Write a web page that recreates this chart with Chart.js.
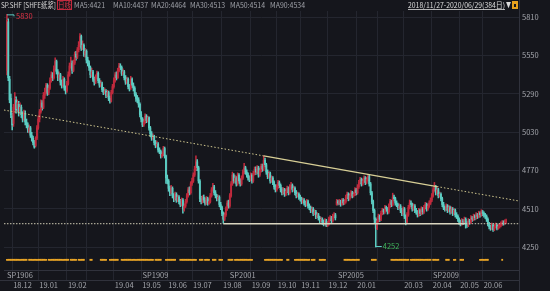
<!DOCTYPE html>
<html>
<head>
<meta charset="utf-8">
<script src="https://cdn.jsdelivr.net/npm/chart.js@4.4.1/dist/chart.umd.min.js"></script>
<style>
  html, body { margin: 0; padding: 0; background: #15161c; overflow: hidden; }
  canvas { display: block; }
</style>
</head>
<body>
<canvas id="klineChart" width="550" height="291"></canvas>
<script>
// daily OHLC, 2018/11/27 - 2020/06/29 (384 trading days)
const opens = [5450,5780,5390,5260,5140,5090,5190,5250,5190,5220,
5170,5200,5150,5120,5160,5100,5080,5040,5060,5010,
4990,4960,4940,4990,5060,5120,5170,5230,5200,5280,
5300,5350,5300,5330,5380,5420,5400,5460,5510,5440,
5400,5420,5370,5350,5390,5330,5310,5360,5420,5480,
5500,5450,5500,5560,5540,5590,5620,5680,5600,5620,
5560,5580,5520,5500,5470,5420,5440,5390,5370,5400,
5430,5380,5350,5360,5320,5300,5310,5280,5300,5260,
5240,5300,5340,5380,5420,5400,5450,5480,5470,5430,
5440,5400,5370,5390,5340,5330,5390,5350,5330,5290,
5260,5250,5220,5150,5120,5080,5100,5140,5110,5130,
5060,5020,4990,5000,4960,4940,4950,4910,4900,4870,
4880,4920,4870,4720,4700,4650,4620,4650,4600,4580,
4610,4570,4590,4560,4540,4570,4510,4530,4560,4600,
4640,4620,4680,4700,4740,4780,4830,4790,4700,4580,
4560,4590,4570,4550,4580,4550,4560,4600,4640,4660,
4620,4600,4580,4590,4540,4520,4480,4440,4470,4510,
4550,4530,4600,4680,4740,4700,4720,4680,4740,4700,
4680,4720,4760,4790,4760,4740,4720,4710,4740,4700,
4750,4780,4760,4790,4740,4770,4800,4780,4840,4810,
4760,4730,4750,4700,4720,4690,4660,4640,4660,4690,
4670,4640,4620,4640,4610,4630,4650,4620,4660,4670,
4640,4650,4620,4600,4610,4590,4580,4560,4570,4550,
4540,4560,4530,4520,4500,4510,4480,4490,4460,4470,
4450,4430,4440,4420,4410,4430,4400,4410,4440,4450,
4430,4460,4470,4540,4560,4550,4560,4540,4570,4550,
4560,4590,4610,4580,4600,4620,4600,4610,4640,4620,
4660,4690,4710,4680,4700,4720,4690,4710,4730,4680,
4620,4560,4500,4440,4380,4430,4460,4440,4480,4500,
4490,4520,4510,4490,4530,4560,4540,4590,4580,4550,
4540,4520,4530,4500,4480,4510,4460,4420,4470,4520,
4550,4540,4510,4530,4500,4490,4470,4500,4480,4510,
4490,4520,4540,4510,4530,4550,4570,4600,4640,4660,
4620,4640,4600,4610,4580,4540,4520,4510,4530,4500,
4520,4490,4510,4480,4500,4470,4460,4440,4420,4410,
4430,4420,4440,4410,4400,4430,4420,4450,4440,4460,
4450,4470,4460,4480,4470,4490,4480,4470,4460,4440,
4410,4390,4380,4400,4370,4390,4400,4380,4390,4400,
4410,4420,4415,4425];

const highs = [5830,5800,5410,5290,5160,5220,5300,5270,5250,5240,
5230,5215,5170,5180,5175,5120,5095,5080,5070,5030,
5005,4975,5000,5075,5140,5185,5250,5245,5300,5330,
5362,5360,5350,5400,5440,5435,5480,5535,5520,5455,
5440,5430,5385,5410,5400,5345,5375,5440,5500,5540,
5515,5520,5575,5580,5605,5645,5700,5690,5650,5630,
5600,5590,5540,5515,5480,5465,5450,5405,5420,5445,
5440,5395,5380,5370,5335,5330,5320,5315,5310,5275,
5315,5355,5400,5435,5440,5465,5498,5495,5480,5460,
5450,5415,5405,5400,5355,5410,5400,5365,5340,5300,
5280,5265,5230,5170,5130,5120,5155,5150,5140,5135,
5070,5035,5020,5010,4975,4970,4960,4925,4910,4895,
4935,4930,4875,4740,4710,4665,4670,4660,4615,4625,
4620,4605,4600,4575,4585,4580,4545,4575,4615,4655,
4660,4695,4720,4755,4800,4870,4845,4800,4710,4595,
4600,4605,4585,4595,4590,4580,4615,4655,4684,4670,
4635,4610,4605,4600,4555,4530,4490,4485,4525,4565,
4570,4615,4695,4760,4750,4740,4730,4755,4750,4715,
4735,4775,4820,4800,4775,4755,4735,4755,4750,4765,
4795,4795,4805,4800,4785,4815,4815,4870,4855,4820,
4775,4765,4760,4735,4730,4700,4675,4675,4705,4700,
4680,4655,4655,4650,4645,4665,4660,4675,4690,4680,
4665,4660,4635,4625,4620,4605,4590,4585,4580,4565,
4575,4570,4545,4530,4525,4520,4505,4500,4485,4480,
4460,4455,4450,4435,4445,4440,4425,4455,4465,4460,
4475,4485,4480,4575,4570,4575,4570,4580,4580,4575,
4605,4625,4620,4615,4635,4630,4625,4655,4650,4675,
4705,4725,4720,4715,4735,4730,4725,4745,4740,4690,
4630,4570,4510,4450,4445,4475,4470,4495,4515,4510,
4535,4530,4520,4545,4575,4570,4617,4605,4590,4565,
4550,4545,4540,4515,4525,4520,4470,4485,4535,4571,
4565,4550,4545,4540,4515,4500,4515,4510,4525,4520,
4535,4555,4550,4545,4565,4585,4615,4655,4690,4670,
4655,4650,4625,4620,4590,4555,4530,4545,4540,4535,
4530,4525,4520,4515,4510,4485,4470,4450,4435,4445,
4440,4455,4450,4425,4445,4440,4465,4460,4475,4470,
4485,4480,4495,4490,4505,4500,4490,4480,4470,4450,
4420,4400,4415,4410,4405,4415,4410,4405,4412,4422,
4432,4430,4436,4442];

const lows = [5420,5380,5230,5130,5046,5070,5180,5160,5170,5140,
5150,5130,5100,5110,5080,5060,5030,5025,4995,4970,
4945,4922,4930,4980,5050,5100,5160,5180,5190,5260,
5290,5280,5285,5320,5370,5380,5390,5450,5425,5380,
5385,5350,5330,5340,5315,5290,5300,5350,5410,5465,
5430,5440,5490,5520,5530,5575,5610,5585,5590,5545,
5540,5500,5480,5450,5400,5405,5375,5350,5360,5390,
5365,5335,5340,5305,5285,5290,5265,5270,5245,5227,
5235,5290,5330,5370,5385,5395,5440,5455,5415,5420,
5385,5355,5360,5325,5310,5320,5335,5310,5275,5240,
5230,5200,5135,5100,5068,5070,5090,5095,5100,5045,
5000,4975,4980,4945,4925,4930,4895,4885,4855,4860,
4870,4855,4684,4680,4630,4600,4610,4585,4560,4570,
4555,4560,4545,4525,4530,4481,4495,4520,4550,4590,
4605,4610,4670,4690,4730,4770,4770,4685,4560,4545,
4550,4555,4535,4540,4535,4540,4550,4590,4630,4605,
4585,4565,4570,4525,4505,4465,4413,4430,4460,4500,
4515,4520,4590,4670,4685,4690,4665,4670,4685,4665,
4670,4710,4750,4745,4725,4705,4695,4700,4685,4690,
4740,4745,4750,4725,4730,4760,4765,4770,4795,4745,
4715,4720,4685,4690,4675,4645,4625,4630,4650,4655,
4625,4605,4610,4595,4600,4620,4605,4610,4650,4625,
4630,4605,4585,4590,4575,4565,4545,4550,4535,4525,
4530,4515,4505,4485,4490,4465,4470,4445,4450,4435,
4415,4420,4405,4395,4400,4390,4390,4400,4430,4415,
4420,4450,4435,4535,4537,4540,4528,4535,4538,4540,
4550,4580,4565,4570,4590,4585,4590,4600,4605,4610,
4650,4680,4665,4670,4690,4675,4680,4700,4665,4605,
4545,4485,4413,4252,4370,4420,4425,4430,4470,4475,
4480,4495,4475,4480,4520,4525,4530,4565,4535,4525,
4505,4510,4485,4465,4470,4445,4402,4410,4460,4510,
4525,4495,4500,4485,4475,4455,4460,4465,4470,4475,
4480,4510,4495,4500,4520,4540,4560,4590,4630,4605,
4610,4585,4590,4565,4525,4505,4495,4500,4485,4490,
4475,4480,4465,4470,4455,4445,4425,4405,4395,4400,
4405,4410,4380,4385,4390,4405,4410,4425,4430,4435,
4440,4445,4450,4455,4460,4465,4455,4445,4425,4395,
4375,4365,4370,4357,4362,4380,4368,4372,4380,4388,
4398,4400,4405,4412];

const closes = [5790,5400,5250,5150,5080,5200,5260,5180,5230,5160,
5200,5150,5120,5160,5100,5080,5050,5060,5010,4990,
4960,4930,4990,5060,5120,5170,5230,5200,5280,5300,
5350,5300,5330,5380,5420,5400,5460,5510,5440,5400,
5420,5370,5350,5390,5330,5310,5360,5420,5480,5500,
5450,5500,5560,5540,5590,5620,5680,5600,5620,5560,
5580,5520,5500,5470,5420,5440,5390,5370,5400,5430,
5380,5350,5360,5320,5300,5310,5280,5300,5260,5240,
5300,5340,5380,5420,5400,5450,5480,5470,5430,5440,
5400,5370,5390,5340,5330,5390,5350,5330,5290,5260,
5250,5220,5150,5120,5080,5100,5140,5110,5130,5060,
5020,4990,5000,4960,4940,4950,4910,4900,4870,4880,
4920,4870,4720,4700,4650,4620,4650,4600,4580,4610,
4570,4590,4560,4540,4570,4510,4530,4560,4600,4640,
4620,4680,4700,4740,4780,4830,4790,4700,4580,4560,
4590,4570,4550,4580,4550,4560,4600,4640,4660,4620,
4600,4580,4590,4540,4520,4480,4440,4470,4510,4550,
4530,4600,4680,4740,4700,4720,4680,4740,4700,4680,
4720,4760,4790,4760,4740,4720,4710,4740,4700,4750,
4780,4760,4790,4740,4770,4800,4780,4840,4810,4760,
4730,4750,4700,4720,4690,4660,4640,4660,4690,4670,
4640,4620,4640,4610,4630,4650,4620,4660,4670,4640,
4650,4620,4600,4610,4590,4580,4560,4570,4550,4540,
4560,4530,4520,4500,4510,4480,4490,4460,4470,4450,
4430,4440,4420,4410,4430,4400,4410,4440,4450,4430,
4460,4470,4450,4560,4550,4560,4540,4570,4550,4560,
4590,4610,4580,4600,4620,4600,4610,4640,4620,4660,
4690,4710,4680,4700,4720,4690,4710,4730,4680,4620,
4560,4500,4440,4380,4430,4460,4440,4480,4500,4490,
4520,4510,4490,4530,4560,4540,4590,4580,4550,4540,
4520,4530,4500,4480,4510,4460,4420,4470,4520,4550,
4540,4510,4530,4500,4490,4470,4500,4480,4510,4490,
4520,4540,4510,4530,4550,4570,4600,4640,4660,4620,
4640,4600,4610,4580,4540,4520,4510,4530,4500,4520,
4490,4510,4480,4500,4470,4460,4440,4420,4410,4430,
4420,4440,4410,4400,4430,4420,4450,4440,4460,4450,
4470,4460,4480,4470,4490,4480,4470,4460,4440,4410,
4390,4380,4400,4370,4390,4400,4380,4390,4400,4410,
4420,4415,4425,4430];

// first trading day of each month (index into the series) and its label
const monthStarts = [4, 24, 46, 61, 82, 103, 123, 142, 165, 187, 207, 225, 246, 268, 284, 304, 326, 347, 365];
const monthLabels = ['18.12','19.01','19.02','','19.04','19.05','19.06','19.07','19.08','19.09','19.10','19.11','19.12','20.01','','20.03','20.04','20.05','20.06'];

// main contract switches
const contractStarts = [0, 104, 171, 254, 327];
const contractNames = ['SP1906', 'SP1909', 'SP2001', 'SP2005', 'SP2009'];

const priceTicks = [4250, 4510, 4770, 5030, 5290, 5550, 5810];

// orange signal marks under the candles, [first day, last day]
const signalRanges = [[0,8],[9,15],[17,23],[24,30],[32,37],[38,47],[49,53],[55,59],[64,65],[72,76],
  [79,85],[88,99],[100,112],[114,118],[122,125],[126,129],[133,140],[141,145],[148,150],[152,155],
  [158,160],[163,165],[170,173],[175,188],[198,207],[208,211],[215,216],[221,232],[234,236],[240,244],
  [259,270],[280,283],[295,308],[310,319],[320,325],[327,331],[337,339],[343,344],[348,350],[363,369],[380,380]];

// hand-drawn lines: falling resistance and flat support
const resistDays = [-2.3, 197, 330, 392.9];
const resistPrices = [5181, 4870, 4662, 4564];
const supportDays = [-2.3, 166, 352, 392.9];
const supportPrices = [4410, 4410, 4410, 4410];

const maLabels = ['MA5:4421', 'MA10:4437', 'MA20:4464', 'MA30:4513', 'MA50:4514', 'MA90:4534'];

const UP = '#c02a3d';
const DOWN = '#5ccdc3';
const FONT = '"Noto Sans CJK SC", "Noto Sans", sans-serif';
const SIGNAL_LEVEL = 4165;

const days = closes.map((c, i) => i);
const candleColors = days.map(i => closes[i] >= opens[i] ? UP : DOWN);

const signalPoints = [];
signalRanges.forEach(([a, b]) => {
  for (let i = a; i <= b; i++) signalPoints.push({ x: i, y: SIGNAL_LEVEL });
});

function seg(xs, ys, from, to) {
  const pts = [];
  for (let k = from; k <= to; k++) pts.push({ x: xs[k], y: ys[k] });
  return pts;
}

const overlay = {
  id: 'overlay',
  beforeDraw(chart) {
    const { ctx } = chart;
    ctx.save();
    ctx.fillStyle = '#15161c';
    ctx.fillRect(0, 0, chart.width, chart.height);
    ctx.restore();
  },
  afterDraw(chart) {
    const { ctx, scales: { x, y } } = chart;
    ctx.save();

    // frame lines
    ctx.strokeStyle = '#30323c';
    ctx.lineWidth = 1;
    ctx.beginPath();
    ctx.moveTo(519.5, 0); ctx.lineTo(519.5, 291);
    ctx.moveTo(0, 280.5); ctx.lineTo(519, 280.5);
    ctx.stroke();

    // header
    ctx.font = '7.5px ' + FONT;
    ctx.textBaseline = 'middle';
    ctx.textAlign = 'left';
    ctx.fillStyle = '#d6d6d6';
    ctx.fillText('SP.SHF [SHFE纸浆]', 1, 5, 55);
    ctx.strokeStyle = '#c42a3f';
    ctx.strokeRect(57.5, 0.5, 14, 9);
    ctx.fillStyle = '#e03446';
    ctx.fillText('日线', 58, 5, 13);
    ctx.fillStyle = '#9fa1a8';
    const maX = [74, 113, 151, 190, 230, 270];
    maLabels.forEach((t, k) => ctx.fillText(t, maX[k], 5, k === 0 ? 31 : 35));

    ctx.textAlign = 'right';
    ctx.fillStyle = '#dcdcdc';
    const range = '2018/11/27-2020/06/29(384日)';
    ctx.fillText(range, 505, 5, 97);
    const w = Math.min(97, ctx.measureText(range).width);
    ctx.fillRect(505 - w, 9, w, 0.8);
    ctx.textAlign = 'left';
    ctx.fillText('▼', 506, 5, 5);
    ctx.fillStyle = '#e8a21e';
    ctx.fillRect(512, 1, 6, 8);
    ctx.fillStyle = '#15161c';
    ctx.fillRect(514, 4, 2, 3);

    // highest / lowest marks
    const hi = Math.max(...highs), hiIdx = highs.indexOf(hi);
    const lo = Math.min(...lows), loIdx = lows.indexOf(lo);
    ctx.strokeStyle = DOWN;
    ctx.beginPath();
    let px = x.getPixelForValue(hiIdx), py = y.getPixelForValue(hi);
    ctx.moveTo(px, py + 0.5); ctx.lineTo(px + 7, py + 0.5); ctx.lineTo(px + 7, py + 2);
    ctx.stroke();
    ctx.fillStyle = '#e03446';
    ctx.fillText(String(hi), px + 9, py + 2);
    px = x.getPixelForValue(loIdx); py = y.getPixelForValue(lo);
    ctx.beginPath();
    ctx.moveTo(px, py - 0.5); ctx.lineTo(px + 6, py - 0.5);
    ctx.stroke();
    ctx.fillStyle = '#3fb45a';
    ctx.fillText(String(lo), px + 7, py - 1);

    // contract names
    ctx.fillStyle = '#a3a5ab';
    contractStarts.forEach((d, k) => {
      ctx.fillText(contractNames[k], x.getPixelForValue(d), 275.5);
    });
    ctx.restore();
  }
};

new Chart(document.getElementById('klineChart'), {
  type: 'bar',
  data: {
    datasets: [
      {
        label: 'wick',
        data: days.map(i => ({ x: i, y: [lows[i], highs[i]] })),
        backgroundColor: candleColors,
        barThickness: 0.9,
        grouped: false,
        order: 3
      },
      {
        label: 'body',
        data: days.map(i => ({ x: i, y: [opens[i], closes[i]] })),
        backgroundColor: candleColors,
        barThickness: 1.2,
        grouped: false,
        order: 2
      },
      {
        type: 'scatter',
        label: 'signal',
        data: signalPoints,
        pointStyle: 'rect',
        pointRadius: 1.3,
        pointBackgroundColor: '#eaa526',
        pointBorderWidth: 0,
        order: 1
      },
      {
        type: 'line', label: 'resistL', data: seg(resistDays, resistPrices, 0, 1),
        borderColor: '#cfc68e', borderWidth: 1, borderDash: [1.5, 2], pointRadius: 0, order: 0
      },
      {
        type: 'line', label: 'resist', data: seg(resistDays, resistPrices, 1, 2),
        borderColor: '#d8cf96', borderWidth: 1.2, pointRadius: 0, order: 0
      },
      {
        type: 'line', label: 'resistR', data: seg(resistDays, resistPrices, 2, 3),
        borderColor: '#cfc68e', borderWidth: 1, borderDash: [1.5, 2], pointRadius: 0, order: 0
      },
      {
        type: 'line', label: 'supportL', data: seg(supportDays, supportPrices, 0, 1),
        borderColor: '#cfcbb4', borderWidth: 1, borderDash: [1.5, 1.5], pointRadius: 0, order: 0
      },
      {
        type: 'line', label: 'support', data: seg(supportDays, supportPrices, 1, 2),
        borderColor: '#d9d5bf', borderWidth: 1.5, pointRadius: 0, order: 0
      },
      {
        type: 'line', label: 'supportR', data: seg(supportDays, supportPrices, 2, 3),
        borderColor: '#cfcbb4', borderWidth: 1, borderDash: [1.5, 1.5], pointRadius: 0, order: 0
      }
    ]
  },
  options: {
    responsive: false,
    animation: false,
    devicePixelRatio: 1,
    layout: { padding: { top: 11, left: 0, right: 0, bottom: 0 } },
    plugins: { legend: { display: false }, tooltip: { enabled: false } },
    scales: {
      x: {
        type: 'linear',
        min: -2.28,
        max: 392.9,
        offset: false,
        afterBuildTicks: scale => { scale.ticks = monthStarts.map(v => ({ value: v })); },
        afterFit: scale => { scale.height = 21; },
        grid: { color: '#24262f', lineWidth: 1, offset: false, drawTicks: true, tickLength: 10, tickColor: '#24262f' },
        border: { display: true, color: '#30323c' },
        ticks: {
          autoSkip: false,
          maxRotation: 0,
          align: 'start',
          labelOffset: 1,
          padding: 1,
          color: '#a3a5ab',
          font: { family: FONT, size: 7.5 },
          callback: v => monthLabels[monthStarts.indexOf(v)]
        }
      },
      y: {
        position: 'right',
        min: 4096,
        max: 5852.7,
        afterBuildTicks: scale => { scale.ticks = priceTicks.map(v => ({ value: v })); },
        afterFit: scale => { scale.width = 31; },
        grid: { color: '#24262f', lineWidth: 1, drawTicks: false },
        border: { display: true, color: '#30323c' },
        ticks: {
          padding: 3,
          color: '#a3a5ab',
          font: { family: FONT, size: 7.5 },
          callback: v => String(v)
        }
      }
    }
  },
  plugins: [overlay]
});
</script>
</body>
</html>
